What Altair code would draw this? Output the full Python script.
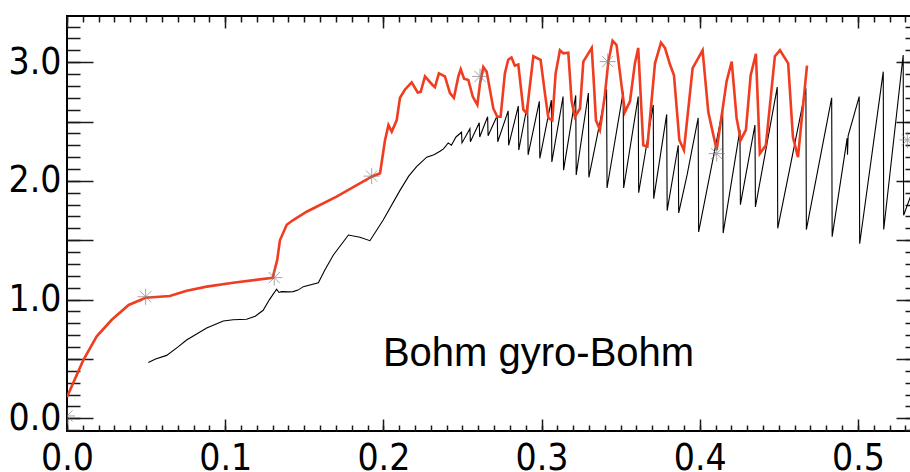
import altair as alt
import pandas as pd

# ---------------- data ----------------
red_x = [0.0, 0.0103, 0.0188, 0.0283, 0.039, 0.0497, 0.065, 0.0757, 0.0883, 0.105, 0.130,
         0.1329, 0.1346, 0.1389, 0.143, 0.1515, 0.1704, 0.1926, 0.1979, 0.201, 0.2032, 0.2053,
         0.2084, 0.2105, 0.2137, 0.2179, 0.2217, 0.2236, 0.2263, 0.2309, 0.2326, 0.2351, 0.2389,
         0.2421, 0.2446, 0.2474, 0.2489, 0.251, 0.2537, 0.2565, 0.2594, 0.2611, 0.2632, 0.2653,
         0.2695, 0.272, 0.2741, 0.2768, 0.2789, 0.281, 0.2831, 0.2853, 0.2885, 0.2906, 0.2948,
         0.2994, 0.3021, 0.3043, 0.3068, 0.3089, 0.3116, 0.3137, 0.3169, 0.319, 0.3211, 0.3243,
         0.3264, 0.3317, 0.3327, 0.3344, 0.3369, 0.34, 0.3422, 0.3449, 0.3474, 0.3496, 0.3527,
         0.3559, 0.359, 0.3611, 0.3643, 0.3669, 0.3717, 0.3755, 0.378, 0.3812, 0.3837, 0.3871,
         0.39, 0.3955, 0.4018, 0.4054, 0.4107, 0.417, 0.4202, 0.4233, 0.4259, 0.4292, 0.4322,
         0.4355, 0.438, 0.4418, 0.4475, 0.4507, 0.4559, 0.4589, 0.4621, 0.4678]
red_y = [0.18, 0.49, 0.69, 0.83, 0.955, 1.016, 1.03, 1.075, 1.109, 1.142, 1.184,
         1.334, 1.50, 1.63, 1.67, 1.74, 1.867, 2.035, 2.064, 2.34, 2.47, 2.415,
         2.51, 2.70, 2.77, 2.83, 2.745, 2.75, 2.88, 2.81, 2.79, 2.905, 2.88,
         2.74, 2.70, 2.88, 2.94, 2.86, 2.85, 2.71, 2.64, 2.82, 2.96, 2.92,
         2.61, 2.54, 2.54, 2.905, 3.02, 3.04, 2.97, 2.98, 2.60, 2.57, 3.05,
         3.02, 2.74, 2.53, 2.51, 2.905, 3.10, 3.075, 3.08, 2.67, 2.54, 2.61,
         3.005, 3.12, 2.905, 2.51, 2.43, 2.72, 3.005, 3.18, 3.145, 2.905, 2.58,
         2.67, 2.99, 3.12, 2.30, 2.29, 2.99, 3.165, 3.12, 2.98, 2.89, 2.345,
         2.26, 2.95, 3.10, 2.58, 2.26, 2.84, 3.005, 2.53, 2.345, 2.43, 2.89,
         3.07, 2.23, 2.30, 3.05, 3.10, 2.99, 2.37, 2.20, 2.97]

black_x = [0.0514, 0.056, 0.063, 0.070, 0.0756, 0.0883, 0.0988, 0.105, 0.1135, 0.119, 0.124,
           0.128, 0.1325, 0.134, 0.1356, 0.140, 0.143, 0.146, 0.1494, 0.1589, 0.163, 0.1684,
           0.1779, 0.1852, 0.1915, 0.1999, 0.2105, 0.216, 0.221, 0.2274, 0.232, 0.2358, 0.238,
           0.241, 0.243, 0.2459, 0.2494, 0.2497, 0.2547, 0.255, 0.2606, 0.2609, 0.2659, 0.2662,
           0.272, 0.2723, 0.2789, 0.2792, 0.2853, 0.2856, 0.2912, 0.2915, 0.2986, 0.2989,
           0.3062, 0.3065, 0.3136, 0.3139, 0.3216, 0.3219, 0.3296, 0.3299, 0.3411, 0.3414,
           0.3516, 0.3519, 0.3611, 0.3614, 0.3706, 0.3709, 0.3791, 0.3794, 0.3864, 0.3867,
           0.392, 0.399, 0.3993, 0.4145, 0.4148, 0.4254, 0.4257, 0.4349, 0.4352, 0.449, 0.4493,
           0.4671, 0.4674, 0.4834, 0.4837, 0.4932, 0.4934, 0.4938, 0.5008, 0.5011, 0.516,
           0.5163, 0.5286, 0.5289, 0.545]
black_y = [0.47, 0.50, 0.53, 0.60, 0.66, 0.76, 0.82, 0.83, 0.834, 0.86, 0.91,
           1.00, 1.087, 1.06, 1.067, 1.065, 1.067, 1.08, 1.109, 1.142, 1.25, 1.376,
           1.544, 1.525, 1.496, 1.67, 1.92, 2.04, 2.12, 2.20, 2.22, 2.25, 2.27,
           2.32, 2.30, 2.37, 2.41, 2.32, 2.44, 2.33, 2.49, 2.37, 2.54, 2.38,
           2.55, 2.33, 2.59, 2.30, 2.63, 2.26, 2.65, 2.22, 2.67, 2.19,
           2.68, 2.16, 2.71, 2.09, 2.72, 2.05, 2.74, 2.03, 2.77, 1.94,
           2.75, 1.94, 2.71, 1.90, 2.64, 1.85, 2.56, 1.75, 2.30, 1.73,
           2.05, 2.53, 1.57, 2.60, 1.56, 2.43, 1.80, 2.47, 1.78, 2.79, 1.60,
           2.78, 1.59, 2.70, 1.53, 2.36, 2.22, 2.38, 2.71, 1.47, 2.92,
           1.59, 3.06, 1.71, 2.30]

star_x = [0.0, 0.0497, 0.131, 0.1926, 0.2611, 0.3418, 0.4107, 0.5312]
star_y = [0.02, 1.024, 1.185, 2.04, 2.88, 3.005, 2.23, 2.345]

label_text = ["Bohm gyro-Bohm"]
label_x = [0.1997]
label_y = [0.44]

x_major = [0.0, 0.1, 0.2, 0.3, 0.4, 0.5]
x_minor = [i / 100 for i in range(0, 55)]
y_major = [0.0, 0.5, 1.0, 1.5, 2.0, 2.5, 3.0]
y_minor = [i / 10 for i in range(-1, 34)]

# ---------------- chart ----------------
XDOM = [0.0, 0.5405]
YDOM = [-0.107, 3.389]
TICK_COL = "#1a1a1a"
LABEL_FONT = ("Liberation Sans Narrow, DejaVu Sans Condensed, Roboto Condensed, "
              "Noto Sans Condensed, Open Sans Condensed, Arial Narrow, Roboto, sans-serif")

red_df = pd.DataFrame({"x": red_x, "y": red_y})
black_df = pd.DataFrame({"x": black_x, "y": black_y})
star_df = pd.DataFrame({"x": star_x, "y": star_y})
text_df = pd.DataFrame({"x": label_x, "y": label_y, "t": label_text})

xs = alt.Scale(domain=XDOM, nice=False, zero=False)
ys = alt.Scale(domain=YDOM, nice=False, zero=False)


def ax(orient, values, size, labels=False, label_expr=None, pad=0):
    kw = dict(
        orient=orient, values=values, tickSize=size, offset=-size,
        domain=False, grid=False, title=None, ticks=True,
        tickColor=TICK_COL, tickWidth=1.5, labels=labels,
    )
    if labels:
        kw.update(labelFont=LABEL_FONT, labelFontSize=37, labelColor="black",
                  labelPadding=pad, labelOverlap=False, labelFlush=False)
        if label_expr:
            kw["labelExpr"] = label_expr
        else:
            kw["format"] = ".1f"
    return alt.Axis(**kw)


red = alt.Chart(red_df).mark_line(color="#f03c20", strokeWidth=2.6, clip=True).encode(
    x=alt.X("x:Q", scale=xs, axis=ax("bottom", x_major, 12, labels=True, pad=9)),
    y=alt.Y("y:Q", scale=ys, axis=ax("left", y_major, 26, labels=True, pad=6,
                                       label_expr="datum.value % 1 === 0 ? format(datum.value, '.1f') : ''")),
    order="x:Q",
)

black = alt.Chart(black_df).mark_line(color="black", strokeWidth=1.1, clip=True).encode(
    x=alt.X("x:Q", scale=xs, axis=ax("bottom", x_minor, 6)),
    y=alt.Y("y:Q", scale=ys, axis=ax("left", y_minor, 13)),
    order="x:Q",
)

stars = alt.Chart(star_df).mark_point(
    shape="M-1,0L1,0M0,-1L0,1M-0.7,-0.7L0.7,0.7M-0.7,0.7L0.7,-0.7",
    size=260, filled=False, color="#808080", strokeWidth=1, clip=True,
).encode(
    x=alt.X("x:Q", scale=xs, axis=ax("top", x_major, 12)),
    y=alt.Y("y:Q", scale=ys, axis=ax("right", y_major, 26)),
)

text = alt.Chart(text_df).mark_text(
    font="Liberation Sans", fontSize=40, align="left", baseline="alphabetic", color="black",
).encode(
    x=alt.X("x:Q", scale=xs, axis=ax("top", x_minor, 6)),
    y=alt.Y("y:Q", scale=ys, axis=ax("right", y_minor, 17)),
    text="t:N",
)

chart = (
    alt.layer(black, red, stars, text)
    .resolve_axis(x="independent", y="independent")
    .properties(
        width=855, height=415,
        autosize=alt.AutoSizeParams(type="none"),
        padding={"left": 67, "top": 16, "right": -12, "bottom": 41},
        background="white",
    )
    .configure_view(stroke="black", strokeWidth=2)
)

chart.save("out.html", embed_options={"renderer": "svg", "actions": False})
